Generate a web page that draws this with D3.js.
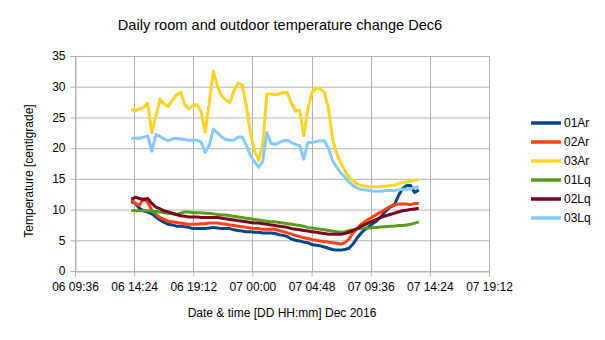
<!DOCTYPE html>
<meta charset="utf-8">
<script src="https://d3js.org/d3.v7.min.js"></script>
<style>
  body { margin: 0; background: #fff; }
  text { font-family: "Liberation Sans", Arial, sans-serif; }
</style>
<svg id="chart" width="605" height="340"></svg>
<script>

// readings every 20 minutes, 06 Dec 14:10 -> 07 Dec 13:30
const startTime = Date.UTC(2016, 11, 6, 14, 10);
const stepMin = 20;

const ar01 = [11.3,11.0,10.2,9.8,9.6,9.3,8.8,8.3,7.9,7.6,7.5,7.3,7.3,7.2,7.1,6.9,6.9,6.9,6.9,7.0,
  7.1,7.0,6.9,6.9,6.9,6.7,6.6,6.5,6.4,6.4,6.3,6.3,6.2,6.2,6.2,6.1,5.9,5.8,5.6,5.2,
  5.0,4.9,4.7,4.6,4.3,4.2,4.1,3.9,3.7,3.5,3.4,3.4,3.5,3.7,4.4,5.4,6.2,6.8,7.3,7.8,
  8.3,9.0,9.8,10.4,10.7,12.2,13.4,13.9,13.9,12.8,13.2];
const ar02 = [11.6,11.0,10.7,11.8,11.2,9.9,9.2,8.7,8.4,8.1,8.0,7.9,7.8,7.7,7.6,7.6,7.6,7.7,7.7,7.8,
  7.8,7.8,7.7,7.6,7.5,7.4,7.3,7.2,7.1,7.0,6.9,6.9,6.8,6.8,6.8,6.8,6.6,6.4,6.2,6.0,
  5.8,5.6,5.4,5.3,5.1,5.0,4.9,4.8,4.7,4.6,4.5,4.4,4.6,5.2,6.2,6.9,7.6,8.1,8.5,8.9,
  9.3,9.7,10.1,10.5,10.8,10.9,10.9,10.9,10.8,11.0,11.0];
const ar03 = [26.3,26.1,26.4,26.6,27.3,22.5,25.2,28.0,27.2,26.8,27.8,28.6,29.1,27.1,26.4,26.9,27.1,26.0,22.6,27.5,
  32.5,30.0,28.5,27.9,27.4,29.3,30.6,30.3,27.0,22.5,19.5,18.0,20.5,28.8,28.8,28.7,28.8,29.1,29.0,27.3,
  26.0,26.2,22.0,26.4,29.1,29.8,29.6,29.1,26.5,21.6,19.2,17.6,16.3,15.3,14.7,14.2,13.9,13.8,13.7,13.7,
  13.7,13.8,13.8,13.9,14.0,14.2,14.4,14.5,14.6,14.8,14.9];
const lq01 = [9.9,9.8,9.8,9.8,9.8,9.7,9.7,9.6,9.5,9.4,9.3,9.2,9.4,9.6,9.6,9.5,9.5,9.5,9.4,9.4,
  9.3,9.2,9.1,9.1,9.0,8.9,8.8,8.7,8.6,8.5,8.4,8.3,8.2,8.1,8.0,8.0,7.9,7.8,7.7,7.6,
  7.5,7.4,7.3,7.1,7.0,6.9,6.8,6.7,6.6,6.5,6.4,6.3,6.4,6.6,6.7,6.9,6.9,7.0,7.0,7.1,
  7.1,7.2,7.2,7.3,7.3,7.4,7.4,7.5,7.6,7.8,8.0];
const lq02 = [11.7,12.0,11.8,11.6,11.8,11.0,10.4,10.1,9.8,9.6,9.4,9.2,9.0,8.9,8.8,8.8,8.8,8.7,8.7,8.7,
  8.7,8.7,8.6,8.5,8.4,8.3,8.2,8.1,8.0,7.9,7.8,7.8,7.7,7.6,7.5,7.4,7.3,7.2,7.1,6.9,
  6.8,6.7,6.6,6.5,6.4,6.3,6.2,6.1,6.0,6.0,6.0,6.0,6.1,6.3,6.6,6.9,7.3,7.6,7.9,8.2,
  8.5,8.8,9.0,9.2,9.4,9.6,9.8,9.9,10.0,10.1,10.2];
const lq03 = [21.6,21.6,21.6,21.8,22.0,19.5,22.2,21.9,21.5,21.2,21.5,21.6,21.5,21.4,21.3,21.3,21.3,21.0,19.3,20.5,
  23.1,22.5,21.8,21.4,21.3,21.3,21.8,21.8,20.5,18.8,17.8,16.9,17.8,22.5,20.8,20.6,20.9,21.2,21.3,20.9,
  20.6,20.4,18.2,20.9,20.9,21.1,21.2,21.2,20.0,18.0,16.9,16.0,15.3,14.5,13.9,13.5,13.3,13.2,13.1,13.0,
  13.0,13.0,13.1,13.1,13.1,13.2,13.3,13.3,13.4,13.6,13.7];

const seriesNames = ["01Ar", "02Ar", "03Ar", "01Lq", "02Lq", "03Lq"];
const seriesValues = [ar01, ar02, ar03, lq01, lq02, lq03];
const seriesColors = ["#004586", "#ff420e", "#ffd320", "#579d1c", "#7e0021", "#83caff"];

const yTicks = [0, 5, 10, 15, 20, 25, 30, 35];
// axis runs 06 09:36 .. 07 19:12 in 4h48m steps
const xStart = Date.UTC(2016, 11, 6, 9, 36);
const xStepMin = 288;
const xTickCount = 8;

const svg = d3.select("#chart");
const plot = { left: 75, right: 489, top: 56, bottom: 271 };

const xTickValues = d3.range(xTickCount).map(i => new Date(xStart + i * xStepMin * 60000));
const times = ar01.map((_, i) => new Date(startTime + i * stepMin * 60000));

const x = d3.scaleUtc()
  .domain([xTickValues[0], xTickValues[xTickCount - 1]])
  .range([plot.left, plot.right]);
const y = d3.scaleLinear()
  .domain([0, 35])
  .range([plot.bottom, plot.top]);

const gridColor = "#b3b3b3";

// grid
svg.append("g")
  .selectAll("line")
  .data(yTicks)
  .join("line")
    .attr("x1", plot.left).attr("x2", plot.right)
    .attr("y1", d => y(d) + 0.5).attr("y2", d => y(d) + 0.5)
    .attr("stroke", gridColor);
svg.append("g")
  .selectAll("line")
  .data(xTickValues)
  .join("line")
    .attr("x1", d => Math.round(x(d)) + 0.5).attr("x2", d => Math.round(x(d)) + 0.5)
    .attr("y1", plot.top).attr("y2", plot.bottom)
    .attr("stroke", gridColor);

// axes
const xAxis = svg.append("g")
  .attr("transform", `translate(0,${plot.bottom + 0.5})`)
  .call(d3.axisBottom(x).tickValues(xTickValues).tickFormat(d3.utcFormat("%d %H:%M")).tickSize(5).tickPadding(6));
const yAxis = svg.append("g")
  .attr("transform", `translate(${plot.left + 0.5},0)`)
  .call(d3.axisLeft(y).tickValues(yTicks).tickSize(5).tickPadding(5));

[xAxis, yAxis].forEach(g => {
  g.select(".domain").attr("stroke", gridColor);
  g.selectAll(".tick line").attr("stroke", gridColor);
  g.selectAll(".tick text")
    .attr("fill", "#000")
    .style("font-size", "12px")
    .style("font-family", "'Liberation Sans', Arial, sans-serif");
});

// series
const line = d3.line()
  .x((d, i) => x(times[i]))
  .y(d => y(d));

svg.append("g")
  .selectAll("path")
  .data(seriesValues)
  .join("path")
    .attr("d", line)
    .attr("fill", "none")
    .attr("stroke", (d, i) => seriesColors[i])
    .attr("stroke-width", 3)
    .attr("stroke-linejoin", "round");

// titles
svg.append("text")
  .attr("x", 280).attr("y", 30)
  .attr("text-anchor", "middle")
  .style("font-size", "14.6px")
  .text("Daily room and outdoor temperature change Dec6");

svg.append("text")
  .attr("x", 282).attr("y", 317)
  .attr("text-anchor", "middle")
  .style("font-size", "12px")
  .text("Date & time [DD HH:mm] Dec 2016");

svg.append("text")
  .attr("transform", "translate(33,171) rotate(-90)")
  .attr("text-anchor", "middle")
  .style("font-size", "12px")
  .text("Temperature [centigrade]");

// legend
const legend = svg.append("g")
  .selectAll("g")
  .data(seriesNames)
  .join("g")
    .attr("transform", (d, i) => `translate(531,${123 + i * 19})`);
legend.append("line")
  .attr("x1", 0).attr("x2", 30)
  .attr("stroke", (d, i) => seriesColors[i])
  .attr("stroke-width", 3.5);
legend.append("text")
  .attr("x", 33).attr("y", 0)
  .attr("dy", "0.35em")
  .style("font-size", "12px")
  .text(d => d);

</script>
